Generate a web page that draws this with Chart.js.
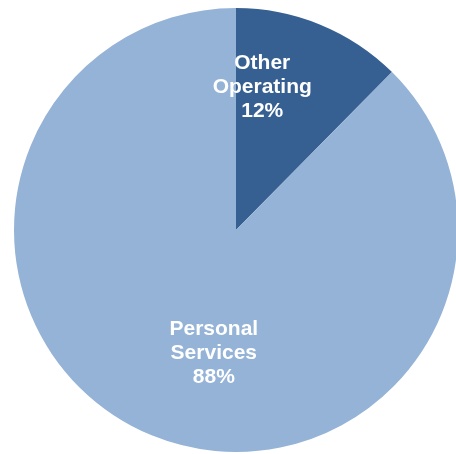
<!DOCTYPE html>
<html>
<head>
<meta charset="utf-8">
<script src="https://cdn.jsdelivr.net/npm/chart.js@4"></script>
<style>
  html, body { margin: 0; padding: 0; background: #ffffff; overflow: hidden; width: 456px; height: 454px; }
  #wrap { position: absolute; left: 0; top: 0; width: 460px; height: 454px; }
</style>
</head>
<body>
<div id="wrap"><canvas id="c"></canvas></div>
<script>
const categories = ["Other Operating", "Personal Services"];
const labelLines = [["Other", "Operating"], ["Personal", "Services"]];
const values = [12.4, 87.6];
const colors = ["#376092", "#95B3D7"];

const total = values.reduce((a, b) => a + b, 0);

const labelPlugin = {
  id: 'sliceLabels',
  afterDatasetsDraw(chart, args, opts) {
    const ctx = chart.ctx;
    const meta = chart.getDatasetMeta(0);
    ctx.save();
    ctx.font = 'bold 21px "Liberation Sans", Arial, sans-serif';
    ctx.fillStyle = '#ffffff';
    ctx.textAlign = 'center';
    ctx.textBaseline = 'middle';
    meta.data.forEach((arc, i) => {
      const p = arc.getProps(['x', 'y', 'startAngle', 'endAngle', 'outerRadius'], true);
      const mid = (p.startAngle + p.endAngle) / 2 + opts.angleOffset * Math.PI / 180;
      const r = p.outerRadius * opts.radiusFractions[i];
      const cx = p.x + Math.cos(mid) * r;
      const cy = p.y + Math.sin(mid) * r;
      const pct = Math.round(values[i] / total * 100) + '%';
      const lines = labelLines[i].concat([pct]);
      const lh = opts.lineHeight;
      const y0 = cy - (lines.length - 1) * lh / 2;
      lines.forEach((t, k) => ctx.fillText(t, cx, y0 + k * lh + 1));
    });
    ctx.restore();
  }
};

new Chart(document.getElementById('c'), {
  type: 'pie',
  data: {
    labels: categories,
    datasets: [{
      data: values,
      backgroundColor: colors,
      borderWidth: 0
    }]
  },
  options: {
    responsive: true,
    maintainAspectRatio: false,
    animation: false,
    layout: { padding: { left: 14, right: 2, top: 8, bottom: 2 } },
    plugins: {
      legend: { display: false },
      tooltip: { enabled: false },
      sliceLabels: { angleOffset: -12, radiusFractions: [0.66, 0.558], lineHeight: 24 }
    }
  },
  plugins: [labelPlugin]
});
</script>
</body>
</html>
